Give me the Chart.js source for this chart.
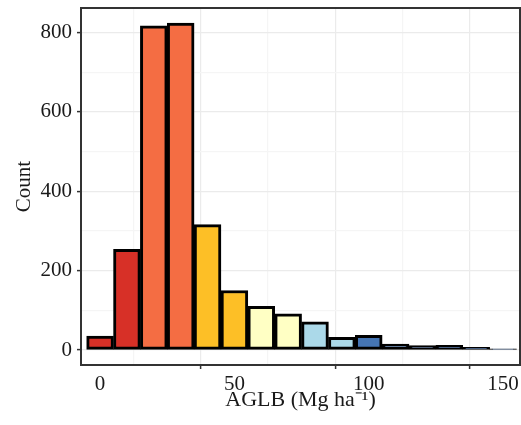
<!DOCTYPE html>
<html><head><meta charset="utf-8">
<script src="https://cdn.jsdelivr.net/npm/chart.js@4"></script>
<style>html,body{margin:0;padding:0;background:#fff}#wrap{width:521px;height:425px}</style>
</head><body><div id="wrap"><canvas id="c" width="521" height="425"></canvas></div>
<script>
const binCenters = [0,10,20,30,40,50,60,70,80,90,100,110,120,130,140,150];
const counts = [35,254,817,824,316,150,110,91,71,32,37,15,11,12,7,3];
const binColors = ['#D73027','#D73027','#F46D43','#F46D43','#FDBF26','#FDBF26','#FFFFC4','#FFFFC4','#ABD9E9','#ABD9E9','#4575B4','#4575B4','#1F3F6E','#1F3F6E','#1F3F6E','#1F3F6E'];
const xTicks = [0,25,50,75,100,125,150];
const xLabelTicks = [0,50,100,150];
const yTicks = [0,100,200,300,400,500,600,700,800];
const yLabelTicks = [0,200,400,600,800];
const xTitle = 'AGLB (Mg ha\u207B\u00B9)';
const yTitle = 'Count';

const font = 'Liberation Serif';
const borderPlugin = {
  id:'panelBorder',
  afterDraw(chart){
    const {ctx, chartArea:a} = chart;
    ctx.save();
    ctx.strokeStyle='#333';
    ctx.lineWidth=2;
    ctx.strokeRect(a.left, a.top, a.right-a.left, a.bottom-a.top);
    ctx.restore();
  }
};
new Chart(document.getElementById('c'), {
  type:'bar',
  data:{datasets:[{
    data: binCenters.map((x,i)=>({x:x,y:counts[i]})),
    backgroundColor: binColors,
    borderColor:'#000',
    borderWidth:3,
    borderSkipped:false,
    barPercentage:1,
    categoryPercentage:1
  }]},
  options:{
    responsive:false,
    animation:false,
    layout:{padding:{top:8,right:1,left:0,bottom:0}},
    plugins:{legend:{display:false},tooltip:{enabled:false}},
    scales:{
      x:{
        type:'linear', min:-7.1, max:156.3, offset:false,
        afterBuildTicks(s){ s.ticks = xTicks.map(v=>({value:v})); },
        afterFit(s){ s.height = 60; s.paddingLeft = 0; s.paddingRight = 0; },
        border:{display:false},
        grid:{
          color:c=> (c.tick && xLabelTicks.includes(c.tick.value)) ? '#EBEBEB' : '#F5F5F5',
          tickColor:c=> (c.tick && xLabelTicks.includes(c.tick.value)) ? '#333' : 'rgba(0,0,0,0)',
          tickLength:4, tickWidth:1.5, lineWidth:1.2
        },
        ticks:{
          autoSkip:false, maxRotation:0, padding:3, color:'#1a1a1a',
          font:{family:font,size:21},
          callback:v=> xLabelTicks.includes(v) ? String(v) : ''
        },
        title:{display:true,text:xTitle,color:'#1a1a1a',font:{family:font,size:22},padding:{top:0,bottom:12}}
      },
      y:{
        type:'linear', min:-37.8, max:862,
        afterBuildTicks(s){ s.ticks = yTicks.map(v=>({value:v})); },
        afterFit(s){ s.width = 81; s.paddingTop = 0; s.paddingBottom = 0; },
        border:{display:false},
        grid:{
          color:c=> (c.tick && yLabelTicks.includes(c.tick.value)) ? '#EBEBEB' : '#F5F5F5',
          tickColor:c=> (c.tick && yLabelTicks.includes(c.tick.value)) ? '#333' : 'rgba(0,0,0,0)',
          tickLength:4, tickWidth:1.5, lineWidth:1.2
        },
        ticks:{
          autoSkip:false, padding:5, color:'#1a1a1a',
          font:{family:font,size:21},
          callback:v=> yLabelTicks.includes(v) ? String(v) : ''
        },
        title:{display:true,text:yTitle,color:'#1a1a1a',font:{family:font,size:21},padding:{top:12,bottom:0}}
      }
    }
  },
  plugins:[borderPlugin]
});
</script></body></html>
